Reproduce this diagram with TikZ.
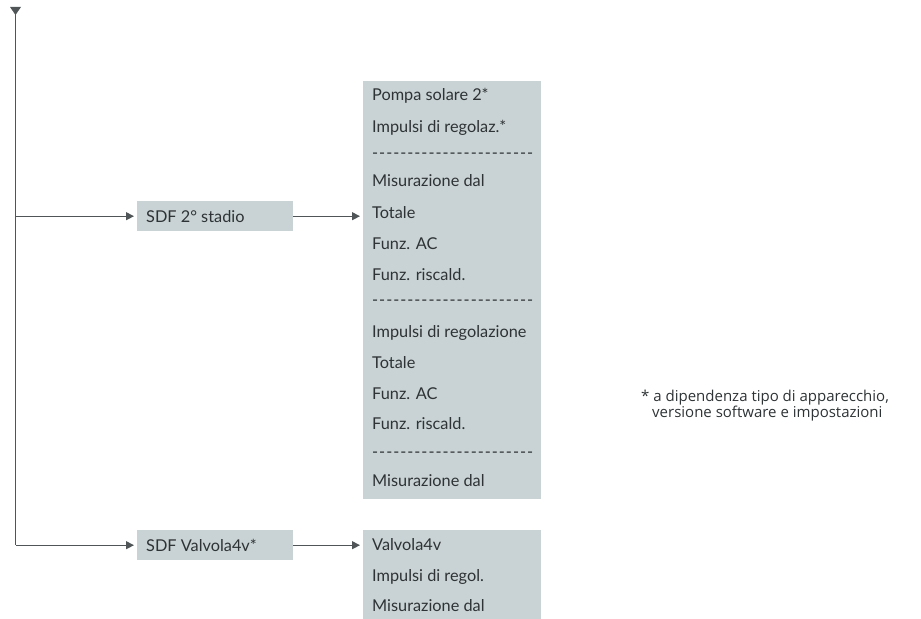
\documentclass[tikz,border=0pt]{standalone}
\usepackage{fontspec}
\setmainfont{Lato}[Ligatures={TeXOff,NoCommon}]
\newfontfamily\notefont{Open Sans}[Ligatures={TeXOff,NoCommon}]
\usetikzlibrary{arrows.meta,calc}
\definecolor{boxgray}{HTML}{C9D2D4}
\definecolor{linegray}{HTML}{505557}
\definecolor{textgray}{HTML}{2E3335}
\begin{document}
\begin{tikzpicture}[x=1bp,y=-1bp,
  conn/.style={draw=linegray,line width=1.1bp,-{Triangle[length=8bp,width=8bp]},shorten >=3bp},
  menubox/.style={fill=boxgray,draw=none,inner sep=0pt,anchor=north west},
  boxtext/.style={font=\fontsize{16.3bp}{18bp}\selectfont,text=textgray,anchor=west,inner sep=0pt},
  itemtext/.style={boxtext},
  dashrow/.style={font=\fontsize{16.3bp}{18bp}\selectfont\addfontfeature{LetterSpace=6},text=textgray,anchor=west,inner sep=0pt},
  note/.style={font=\notefont\fontsize{15bp}{16bp}\selectfont,text=textgray,anchor=west,inner sep=0pt}]
\useasboundingbox (0,0) rectangle (921,619);
% boxes
\node[menubox,minimum width=156bp,minimum height=30bp] (sdf2) at (137,201) {};
\node[boxtext] at ($(sdf2.west)+(9,0)$) {SDF 2° stadio};
\node[menubox,minimum width=156bp,minimum height=30bp] (sdfv) at (137,530) {};
\node[boxtext] at ($(sdfv.west)+(9,0)$) {SDF Valvola4v*};
\node[menubox,minimum width=178bp,minimum height=418bp] (tall) at (363,81) {};
\node[menubox,minimum width=178bp,minimum height=90bp] (low) at (363,530) {};
% tall box items
\node[itemtext] (t1) at (372,96) {Pompa solare 2*};
\node[itemtext] (t2) at (372,128) {Impulsi di regolaz.*};
\node[dashrow] (t3) at (372,156) {-----------------------};
\node[itemtext] (t4) at (372,181) {Misurazione dal};
\node[itemtext] (t5) at (372,213) {Totale};
\node[itemtext] (t6) at (372,244) {Funz. AC};
\node[itemtext] (t7) at (372,275) {Funz. riscald.};
\node[dashrow] (t8) at (372,303) {-----------------------};
\node[itemtext] (t9) at (372,333) {Impulsi di regolazione};
\node[itemtext] (t10) at (372,363) {Totale};
\node[itemtext] (t11) at (372,394) {Funz. AC};
\node[itemtext] (t12) at (372,424) {Funz. riscald.};
\node[dashrow] (t13) at (372,455) {-----------------------};
\node[itemtext] (t14) at (372,481) {Misurazione dal};
% low box items
\node[itemtext] (l1) at (372,545) {Valvola4v};
\node[itemtext] (l2) at (372,577) {Impulsi di regol.};
\node[itemtext] (l3) at (372,606) {Misurazione dal};
% footnote
\node[note] (n1) at (641,398) {* a dipendenza tipo di apparecchio,};
\node[note] (n2) at (652,414) {versione software e impostazioni};
% trunk
\coordinate (top) at (15.5,7);
\coordinate (j1) at (sdf2.west -| top);
\coordinate (j2) at (sdfv.west -| top);
\fill[linegray] (10,7) -- (21,7) -- (15.5,15) -- cycle;
\draw[draw=linegray,line width=1.1bp] (15.5,12) -- (j2);
\draw[conn] (j1) -- (sdf2.west);
\draw[conn] (j2) -- (sdfv.west);
\draw[conn] (sdf2.east) -- (sdf2.east -| tall.west);
\draw[conn] (sdfv.east) -- (sdfv.east -| low.west);
\end{tikzpicture}
\end{document}
